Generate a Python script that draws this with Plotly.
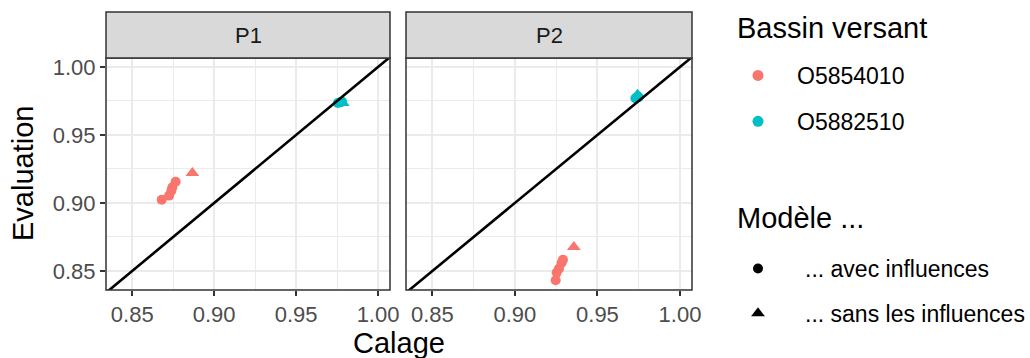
import plotly.graph_objects as go

# ---- data -------------------------------------------------------------
periode = ["P1"] * 10 + ["P2"] * 10
bassin = (["O5854010"] * 6 + ["O5882510"] * 4) * 2
modele = (["avec", "avec", "avec", "avec", "avec", "sans",
           "avec", "avec", "avec", "sans"]) * 2
calage = [0.868, 0.8725, 0.8739, 0.8745, 0.8765, 0.8867,
          0.9755, 0.9770, 0.9780, 0.9785,
          0.9247, 0.9253, 0.9267, 0.9283, 0.9291, 0.9357,
          0.9730, 0.9745, 0.9750, 0.9743]
evaluation = [0.9024, 0.9054, 0.9090, 0.9115, 0.9156, 0.9220,
              0.9735, 0.9740, 0.9745, 0.9735,
              0.8432, 0.8488, 0.8517, 0.8561, 0.8583, 0.8676,
              0.9770, 0.9782, 0.9778, 0.9795]
identite = [0.80, 1.05]

panels = ["P1", "P2"]
bassins = ["O5854010", "O5882510"]
couleurs = {"O5854010": "#F8766D", "O5882510": "#00BFC4"}
modeles = ["avec", "sans"]
symboles = {"avec": "circle", "sans": "triangle-up"}
tailles = {"avec": 10, "sans": 12}
libelles_modele = {"avec": "... avec influences", "sans": "... sans les influences"}

x_range = [0.834, 1.0073]
y_range = [0.836, 1.0066]
ticks = [0.85, 0.90, 0.95, 1.00]
tick_text = ["0.85", "0.90", "0.95", "1.00"]

W, H = 1030, 358
FONT = "Liberation Sans, Arial, sans-serif"

fig = go.Figure()

axes = {"P1": ("x", "y"), "P2": ("x2", "y2")}
for p in panels:
    xa, ya = axes[p]
    for b in bassins:
        for m in modeles:
            xs = [calage[i] for i in range(len(calage))
                  if periode[i] == p and bassin[i] == b and modele[i] == m]
            ys = [evaluation[i] for i in range(len(calage))
                  if periode[i] == p and bassin[i] == b and modele[i] == m]
            fig.add_trace(go.Scatter(
                x=xs, y=ys, mode="markers", xaxis=xa, yaxis=ya,
                marker=dict(color=couleurs[b], symbol=symboles[m],
                            size=tailles[m], line=dict(width=0)),
                showlegend=False, hoverinfo="x+y"))
    fig.add_trace(go.Scatter(
        x=identite, y=identite, mode="lines", xaxis=xa, yaxis=ya,
        line=dict(color="black", width=2.6), showlegend=False,
        hoverinfo="skip"))

# legend entries
for i, b in enumerate(bassins):
    fig.add_trace(go.Scatter(
        x=[None], y=[None], mode="markers", name=b, legend="legend",
        legendgroup="b" + str(i),
        marker=dict(color=couleurs[b], symbol="circle", size=11)))
for i, m in enumerate(modeles):
    fig.add_trace(go.Scatter(
        x=[None], y=[None], mode="markers", name=libelles_modele[m],
        legend="legend2", legendgroup="m" + str(i),
        marker=dict(color="black", symbol=symboles[m], size=tailles[m])))

# layout geometry (pixels -> paper)
px_l1, px_r1 = 106, 390
px_l2, px_r2 = 406, 692
px_top, px_bot = 58, 290
ydom = [1 - px_bot / H, 1 - px_top / H]

axis_common = dict(
    range=x_range, tickvals=ticks, ticktext=tick_text,
    showgrid=True, gridcolor="#EBEBEB", gridwidth=2,
    minor=dict(dtick=0.025, tick0=0.825, showgrid=True,
               gridcolor="#EBEBEB", gridwidth=1.2, ticks=""),
    zeroline=False, showline=False,
    ticks="outside", ticklen=5, tickwidth=1.5, tickcolor="#333333",
    tickfont=dict(family=FONT, size=22, color="#4D4D4D"),
    fixedrange=True, automargin=False,
)

fig.update_layout(
    width=W, height=H,
    margin=dict(l=0, r=0, t=0, b=0, pad=0, autoexpand=False),
    paper_bgcolor="white", plot_bgcolor="white",
    font=dict(family=FONT, color="black"),
    xaxis=dict(domain=[px_l1 / W, px_r1 / W], anchor="y", **axis_common),
    xaxis2=dict(domain=[px_l2 / W, px_r2 / W], anchor="y2", **axis_common),
    yaxis=dict(domain=ydom, anchor="x", **{**axis_common, "range": y_range}),
    yaxis2=dict(domain=ydom, anchor="x2", **{**axis_common,
                                               "range": y_range,
                                               "showticklabels": False,
                                               "ticks": ""}),
    legend=dict(
        x=719 / W, y=1 - 54 / H, xanchor="left", yanchor="top",
        font=dict(family=FONT, size=23, color="black"),
        itemwidth=68, tracegroupgap=13, bgcolor="rgba(0,0,0,0)"),
    legend2=dict(
        x=711 / W, y=1 - 247 / H, xanchor="left", yanchor="top",
        font=dict(family=FONT, size=23, color="black"),
        itemwidth=84, tracegroupgap=12, bgcolor="rgba(0,0,0,0)"),
)

strip_h = (px_top - 12) / (px_bot - px_top)
shapes = []
annotations = []
for p in panels:
    xa, ya = axes[p]
    shapes.append(dict(type="rect", xref=xa + " domain", yref=ya + " domain",
                       x0=0, x1=1, y0=0, y1=1, line=dict(color="#333333", width=1.5),
                       fillcolor="rgba(0,0,0,0)", layer="above"))
    shapes.append(dict(type="rect", xref=xa + " domain", yref=ya + " domain",
                       x0=0, x1=1, y0=1, y1=1 + strip_h,
                       line=dict(color="#333333", width=1.5),
                       fillcolor="#D9D9D9", layer="above"))
    annotations.append(dict(text=p, xref=xa + " domain", yref=ya + " domain",
                            x=0.5, y=1 + strip_h / 2, showarrow=False,
                            xanchor="center", yanchor="middle",
                            font=dict(family=FONT, size=22, color="#1A1A1A")))

annotations.append(dict(text="Calage", xref="paper", yref="paper",
                        x=(px_l1 + px_r2) / 2 / W, y=1 - 343 / H,
                        xanchor="center", yanchor="middle", showarrow=False,
                        font=dict(family=FONT, size=29, color="black")))
annotations.append(dict(text="Evaluation", xref="paper", yref="paper",
                        x=23 / W, y=1 - 174 / H, textangle=-90,
                        xanchor="center", yanchor="middle", showarrow=False,
                        font=dict(family=FONT, size=29, color="black")))
for titre, ypix in [("Bassin versant", 28), ("Modèle ...", 218)]:
    annotations.append(dict(text=titre, xref="paper", yref="paper",
                            x=735 / W, y=1 - ypix / H,
                            xanchor="left", yanchor="middle", showarrow=False,
                            font=dict(family=FONT, size=29, color="black")))
fig.update_layout(shapes=shapes, annotations=annotations)

fig.write_html("out.html",
               config={"displayModeBar": False},
               post_script="document.body.style.margin='0px';"
                           "document.body.style.overflow='hidden';")
